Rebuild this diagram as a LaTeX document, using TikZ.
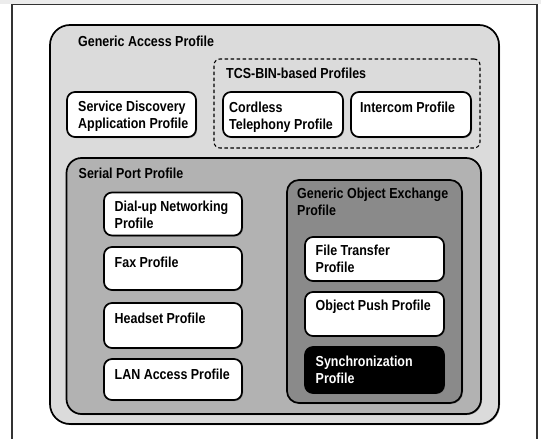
\documentclass[tikz,border=0pt]{standalone}
\usepackage{fontspec}
\setmainfont{Liberation Sans}[FakeStretch=0.86]
\usetikzlibrary{shadows}
\definecolor{gapgray}{gray}{0.86}
\definecolor{sppgray}{gray}{0.70}
\definecolor{goepgray}{gray}{0.54}
\begin{document}
\begin{tikzpicture}[x=1pt,y=-1pt,
  txt/.style={font=\fontsize{14.5}{17.3}\selectfont\bfseries, align=left, inner sep=0pt, anchor=north west},
  lbl/.style={txt, xshift=10.5pt, yshift=-7.9pt},
  shad/.style={drop shadow={shadow xshift=1pt, shadow yshift=-1pt, fill=black!60, opacity=0.6}},
  container/.style={draw=black, line width=1.7pt, anchor=north west, inner sep=0pt, outer sep=0pt, shad},
  gapbox/.style={container, fill=gapgray, rounded corners=20pt},
  sppbox/.style={container, fill=sppgray, rounded corners=15pt},
  goepbox/.style={container, fill=goepgray, rounded corners=12pt},
  tcsbox/.style={draw=black, line width=1.1pt, dash pattern=on 3.5pt off 2.5pt, rounded corners=6pt, anchor=north west, inner sep=0pt, outer sep=0pt},
  wbox/.style={container, fill=white, rounded corners=8pt, minimum width=138pt, minimum height=44pt},
  bbox/.style={wbox, fill=black}
]
\useasboundingbox (0,0) rectangle (541,439);
\clip (0,0) rectangle (541,439);
\fill[white] (0,0) rectangle (541,439);
\fill[gray!15] (0,0) rectangle (541,4);
\draw[line width=1.3pt, black!80] (12,4.5) rectangle (537,460);

% Generic Access Profile
\node[gapbox, minimum width=449pt, minimum height=399pt,
  label={[txt, xshift=28pt, yshift=-10.4pt]north west:Generic Access Profile}] (gap) at (50,25) {};

% TCS-BIN-based
\node[tcsbox, minimum width=266pt, minimum height=89pt,
  label={[txt, xshift=12pt, yshift=-8.4pt]north west:TCS-BIN-based Profiles}] (tcs) at (214,59) {};

\node[wbox, minimum width=129pt, minimum height=45pt,
  label={[lbl, xshift=0.5pt, yshift=-0.5pt]north west:{Service Discovery\\Application Profile}}] (sdap) at (67,92) {};
\node[wbox, minimum width=120pt, minimum height=45pt,
  label={[lbl, xshift=-4.5pt, yshift=-2pt]north west:{Cordless\\Telephony Profile}}] (ctp) at (223,92) {};
\node[wbox, minimum width=120pt, minimum height=45pt,
  label={[lbl, xshift=-1.5pt, yshift=-2pt]north west:{Intercom Profile}}] (icp) at (351,92) {};

% Serial Port Profile
\node[sppbox, minimum width=414.5pt, minimum height=256pt,
  label={[txt, xshift=12pt, yshift=-9.4pt]north west:Serial Port Profile}] (spp) at (66.5,158) {};

\node[wbox, minimum height=43pt,
  label={[lbl]north west:{Dial-up Networking\\Profile}}] (dun) at (104,192.5) {};
\node[wbox, minimum height=43pt,
  label={[lbl, yshift=-2pt]north west:{Fax Profile}}] (fax) at (104,247) {};
\node[wbox, minimum height=45pt,
  label={[lbl, yshift=-2pt]north west:{Headset Profile}}] (hsp) at (104,303) {};
\node[wbox, minimum height=41pt,
  label={[lbl, yshift=-2pt]north west:{LAN Access Profile}}] (lap) at (104,359) {};

% Generic Object Exchange Profile
\node[goepbox, minimum width=175pt, minimum height=223pt,
  label={[lbl, xshift=-0.5pt]north west:{Generic Object Exchange\\Profile}}] (goep) at (287,180) {};

\node[wbox, minimum width=139pt, minimum height=44pt,
  label={[lbl]north west:{File Transfer\\Profile}}] (ftp) at (305,237) {};
\node[wbox, minimum width=139pt, minimum height=44pt,
  label={[lbl]north west:{Object Push Profile}}] (opp) at (305,292) {};
\node[bbox, minimum width=139pt, minimum height=46pt,
  label={[lbl, text=white, yshift=-1pt]north west:{Synchronization\\Profile}}] (sync) at (305,347) {};
\end{tikzpicture}
\end{document}
